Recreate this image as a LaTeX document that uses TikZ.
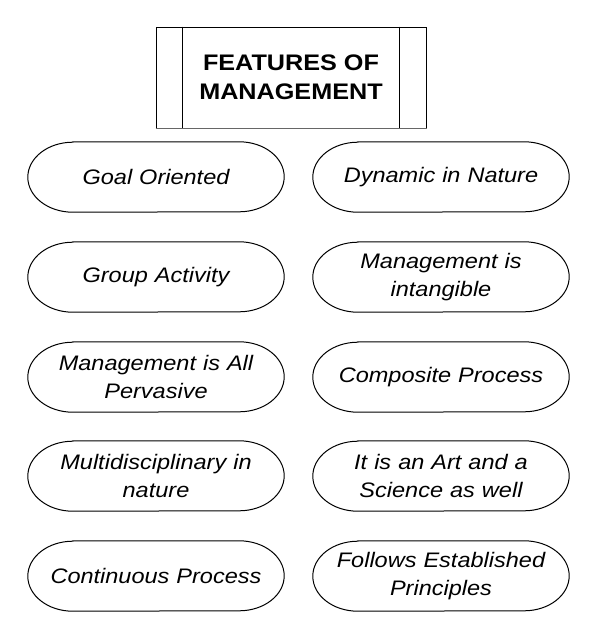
\documentclass[tikz,border=0pt]{standalone}
\usepackage{fontspec}
\setmainfont{Liberation Sans}[FakeStretch=1.12]
\begin{document}
\begin{tikzpicture}[x=1pt,y=-1pt,
  feat/.style={minimum width=256pt,minimum height=70pt,inner sep=0pt,
    align=center,text width=250pt,
    font=\fontsize{21}{28}\selectfont\itshape},
  ttl/.style={draw,line width=1pt,minimum width=270pt,minimum height=101pt,
    inner sep=0pt,align=center,font=\fontsize{22.5}{29}\selectfont\bfseries},
  capline/.style={line width=1pt}]
\useasboundingbox (0,0) rectangle (597,640);
\newcommand\capsule[1]{\draw[capline] ([xshift=45pt]#1.north west) -- ([xshift=-45pt]#1.north east)
  arc[start angle=90,end angle=-90,x radius=45pt,y radius=35pt]
  -- ([xshift=45pt]#1.south west)
  arc[start angle=270,end angle=90,x radius=45pt,y radius=35pt] -- cycle;}
\node[ttl] (t) at (291,77.5) {FEATURES OF\\MANAGEMENT};
\draw[line width=1pt] ([xshift=27pt]t.north west) -- ([xshift=27pt]t.south west);
\draw[line width=1pt] ([xshift=-27pt]t.north east) -- ([xshift=-27pt]t.south east);
\draw[line width=1.6pt,black!60] (t.south west) -- (t.south east);
\node[feat] (l1) at (156,177) {Goal Oriented};
\node[feat] (l2) at (156,277) {Group Activity};
\node[feat] (l3) at (156,377) {Management is All\\Pervasive};
\node[feat] (l4) at (156,476) {Multidisciplinary in\\nature};
\node[feat] (l5) at (156,576) {Continuous Process};
\node[feat] (r1) at (441,177) {Dynamic in Nature};
\node[feat] (r2) at (441,277) {Management is\\intangible};
\node[feat] (r3) at (441,377) {Composite Process};
\node[feat] (r4) at (441,476) {It is an Art and a\\Science as well};
\node[feat] (r5) at (441,576) {Follows Established\\Principles};
\foreach \n in {l1,l2,l3,l4,l5,r1,r2,r3,r4,r5}{\capsule{\n}}
\end{tikzpicture}
\end{document}
